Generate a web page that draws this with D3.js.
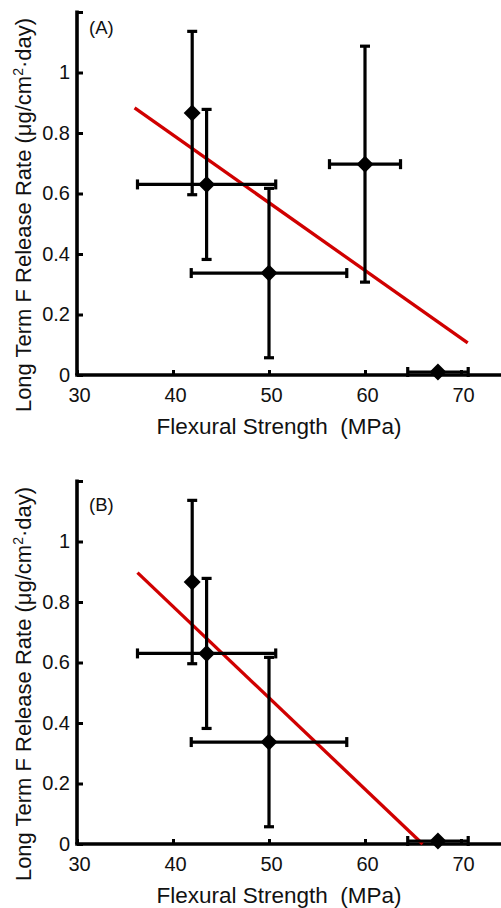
<!DOCTYPE html>
<html>
<head>
<meta charset="utf-8">
<script src="https://cdn.jsdelivr.net/npm/d3@7"></script>
<style>
  html, body { margin: 0; padding: 0; background: #fff; }
  svg { display: block; font-family: "Liberation Sans", Arial, Helvetica, sans-serif; }
</style>
</head>
<body>
<svg id="chart" width="501" height="908"></svg>
<script>
// Flexural strength (MPa) vs long-term fluoride release rate, per material
const strengthA = [42.0, 43.5, 50.0, 60.0, 67.6];
const strengthErrA = [0, 7.2, 8.1, 3.7, 3.15];
const releaseA = [0.866, 0.63, 0.337, 0.697, 0.01];
const releaseErrA = [0.27, 0.248, 0.28, 0.39, 0];

// Panel B leaves out the 60 MPa material
const strengthB = [42.0, 43.5, 50.0, 67.6];
const strengthErrB = [0, 7.2, 8.1, 3.15];
const releaseB = [0.866, 0.63, 0.337, 0.01];
const releaseErrB = [0.27, 0.248, 0.28, 0];

// Linear fit end points [strength, release]
const fitA = [[36.0, 0.883], [70.7, 0.106]];
const fitB = [[36.3, 0.897], [66.0, 0.0]];

const xTicks = [30, 40, 50, 60, 70];
const xTickLabels = ["30", "40", "50", "60", "70"];
const yTicks = [0, 0.2, 0.4, 0.6, 0.8, 1, 1.2];
const yTickLabels = ["0", "0.2", "0.4", "0.6", "0.8", "1", ""];

const svg = d3.select("#chart");
const W = 501;

function drawPanel(top, xs, xe, ys, ye, fit, tag, tagY) {
  const g = svg.append("g").attr("transform", `translate(0,${top})`);
  const x = d3.scaleLinear().domain([30, 70]).range([77, 461]);
  const y = d3.scaleLinear().domain([0, 1.2]).range([363, 0]);

  // y axis
  const yAxis = d3.axisLeft(y)
    .tickValues(yTicks)
    .tickFormat((d, i) => yTickLabels[i])
    .tickSizeInner(-6).tickSizeOuter(0).tickPadding(7);
  const ya = g.append("g").attr("transform", `translate(${x(30)},0)`).call(yAxis);
  ya.select(".domain").remove();
  ya.selectAll(".tick line").attr("stroke", "#000").attr("stroke-width", 3);
  ya.selectAll(".tick text").attr("font-size", 20).attr("fill", "#111");

  // x axis
  const xAxis = d3.axisBottom(x)
    .tickValues(xTicks)
    .tickFormat((d, i) => xTickLabels[i])
    .tickSizeInner(-5).tickSizeOuter(0).tickPadding(13);
  const xa = g.append("g").attr("transform", `translate(0,${y(0)})`).call(xAxis);
  xa.select(".domain").remove();
  xa.selectAll(".tick line").attr("stroke", "#000").attr("stroke-width", 3);
  xa.selectAll(".tick text").attr("font-size", 20).attr("fill", "#111").attr("dx", 2);

  // axis lines
  g.append("line")
    .attr("x1", x(30)).attr("x2", x(30)).attr("y1", y(1.2) - 1.5).attr("y2", y(0))
    .attr("stroke", "#000").attr("stroke-width", 3.6);
  g.append("line")
    .attr("x1", x(30) - 1.8).attr("x2", W).attr("y1", y(0)).attr("y2", y(0))
    .attr("stroke", "#000").attr("stroke-width", 3.6);

  // regression line
  g.append("path")
    .datum(fit)
    .attr("d", d3.line().x(d => x(d[0])).y(d => y(d[1])))
    .attr("fill", "none").attr("stroke", "#d00000").attr("stroke-width", 3.3);

  const pts = xs.map((v, i) => ({ x: v, xe: xe[i], y: ys[i], ye: ye[i] }));
  const cap = 5;
  const eb = g.append("g").attr("stroke", "#000").attr("stroke-width", 3.2).attr("fill", "none");
  pts.forEach(p => {
    if (p.ye > 0) {
      eb.append("line").attr("x1", x(p.x)).attr("x2", x(p.x)).attr("y1", y(p.y - p.ye)).attr("y2", y(p.y + p.ye));
      eb.append("line").attr("x1", x(p.x) - cap).attr("x2", x(p.x) + cap).attr("y1", y(p.y - p.ye)).attr("y2", y(p.y - p.ye));
      eb.append("line").attr("x1", x(p.x) - cap).attr("x2", x(p.x) + cap).attr("y1", y(p.y + p.ye)).attr("y2", y(p.y + p.ye));
    }
    if (p.xe > 0) {
      eb.append("line").attr("x1", x(p.x - p.xe)).attr("x2", x(p.x + p.xe)).attr("y1", y(p.y)).attr("y2", y(p.y));
      eb.append("line").attr("x1", x(p.x - p.xe)).attr("x2", x(p.x - p.xe)).attr("y1", y(p.y) - cap).attr("y2", y(p.y) + cap);
      eb.append("line").attr("x1", x(p.x + p.xe)).attr("x2", x(p.x + p.xe)).attr("y1", y(p.y) - cap).attr("y2", y(p.y) + cap);
    }
  });

  // diamond markers
  const r = 8.5;
  g.append("g").selectAll("path").data(pts).join("path")
    .attr("d", p => `M${x(p.x)},${y(p.y) - r}L${x(p.x) + r},${y(p.y)}L${x(p.x)},${y(p.y) + r}L${x(p.x) - r},${y(p.y)}Z`)
    .attr("fill", "#000");

  // panel tag
  g.append("text").attr("x", 89).attr("y", tagY)
    .attr("font-size", 18.5).attr("fill", "#111").text(tag);

  // axis titles
  g.append("text")
    .attr("x", 279).attr("y", 422)
    .attr("text-anchor", "middle").attr("font-size", 22.5).attr("fill", "#111")
    .text("Flexural Strength\u00a0\u00a0(MPa)");

  const yt = g.append("text")
    .attr("transform", `translate(31,203) rotate(-90)`)
    .attr("text-anchor", "middle").attr("font-size", 22).attr("fill", "#111");
  yt.append("tspan").text("Long Term F Release Rate (μg/cm");
  yt.append("tspan").attr("font-size", 14).attr("dy", -8).text("2");
  yt.append("tspan").attr("dy", 8).text("·day)");
}

drawPanel(12, strengthA, strengthErrA, releaseA, releaseErrA, fitA, "(A)", 22);
drawPanel(481, strengthB, strengthErrB, releaseB, releaseErrB, fitB, "(B)", 30);
</script>
</body>
</html>
